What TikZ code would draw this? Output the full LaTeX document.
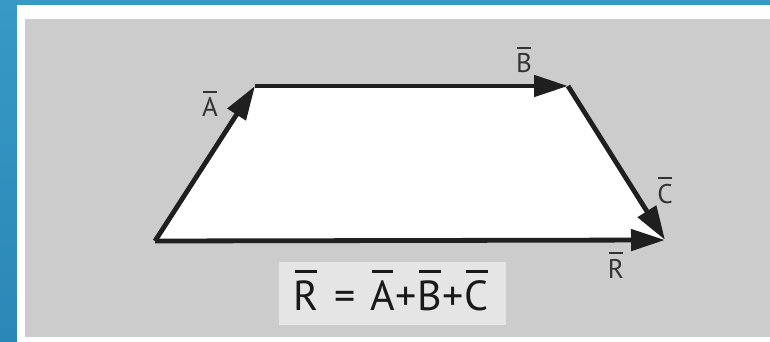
\documentclass[tikz,border=0pt]{standalone}
\usepackage{fontspec}
\setmainfont{PT Sans}
\usetikzlibrary{arrows.meta}
\definecolor{bluebg}{HTML}{3799C6}
\definecolor{bluebot}{HTML}{2B87B7}
\definecolor{graybg}{HTML}{CCCCCC}
\definecolor{eqbg}{HTML}{E5E5E5}
\definecolor{lbl}{HTML}{333333}
\newcommand\ob[1]{\leavevmode\setbox0\hbox{#1}\rlap{\hspace{0.06\wd0}\raisebox{1.25\ht0}{\rule{0.88\wd0}{0.065em}}}\box0\relax}
\tikzset{
  vec/.style={line width=4.8pt, draw=black!88, -{Triangle[length=34pt,width=21pt]}},
  lab/.style={font=\fontsize{27}{27}\selectfont, text=lbl, inner sep=0pt, anchor=base},
}
\begin{document}
\begin{tikzpicture}[x=1pt,y=-1pt]
\useasboundingbox (0,0) rectangle (770,342);
\shade[top color=bluebg, bottom color=bluebot] (0,0) rectangle (770,342);
\fill[white] (17,5) rectangle (770,342);
\fill[graybg] (25,19) rectangle (770,337);
\coordinate (p0) at (155,241);
\coordinate (p1) at (255,86);
\coordinate (p2) at (568,86);
\coordinate (p3) at (665,240);
\fill[white] (p0) -- (p1) -- (p2) -- (p3) -- cycle;
\draw[vec] (p0) -- (p1);
\draw[vec] (p1) -- (p2);
\draw[vec] (p2) -- (p3);
\draw[vec] (p0) -- (p3);
\node[lab] (la) at (210,117) {\ob{A}};
\node[lab] (lb) at (524,73) {\ob{B}};
\node[lab] (lc) at (665,203) {\ob{C}};
\node[lab] (lr) at (616,278) {\ob{R}};
\fill[eqbg] (279,262) rectangle (506,325);
\node[font=\fontsize{42}{42}\selectfont, text=black!90, inner sep=0pt, anchor=base] (eq) at (391,310) {\ob{R}\hspace{0.12em} = \hspace{0.08em}\ob{A}\hspace{0.02em}+\hspace{0.02em}\ob{B}\hspace{0.02em}+\hspace{0.02em}\ob{C}};
\end{tikzpicture}
\end{document}
